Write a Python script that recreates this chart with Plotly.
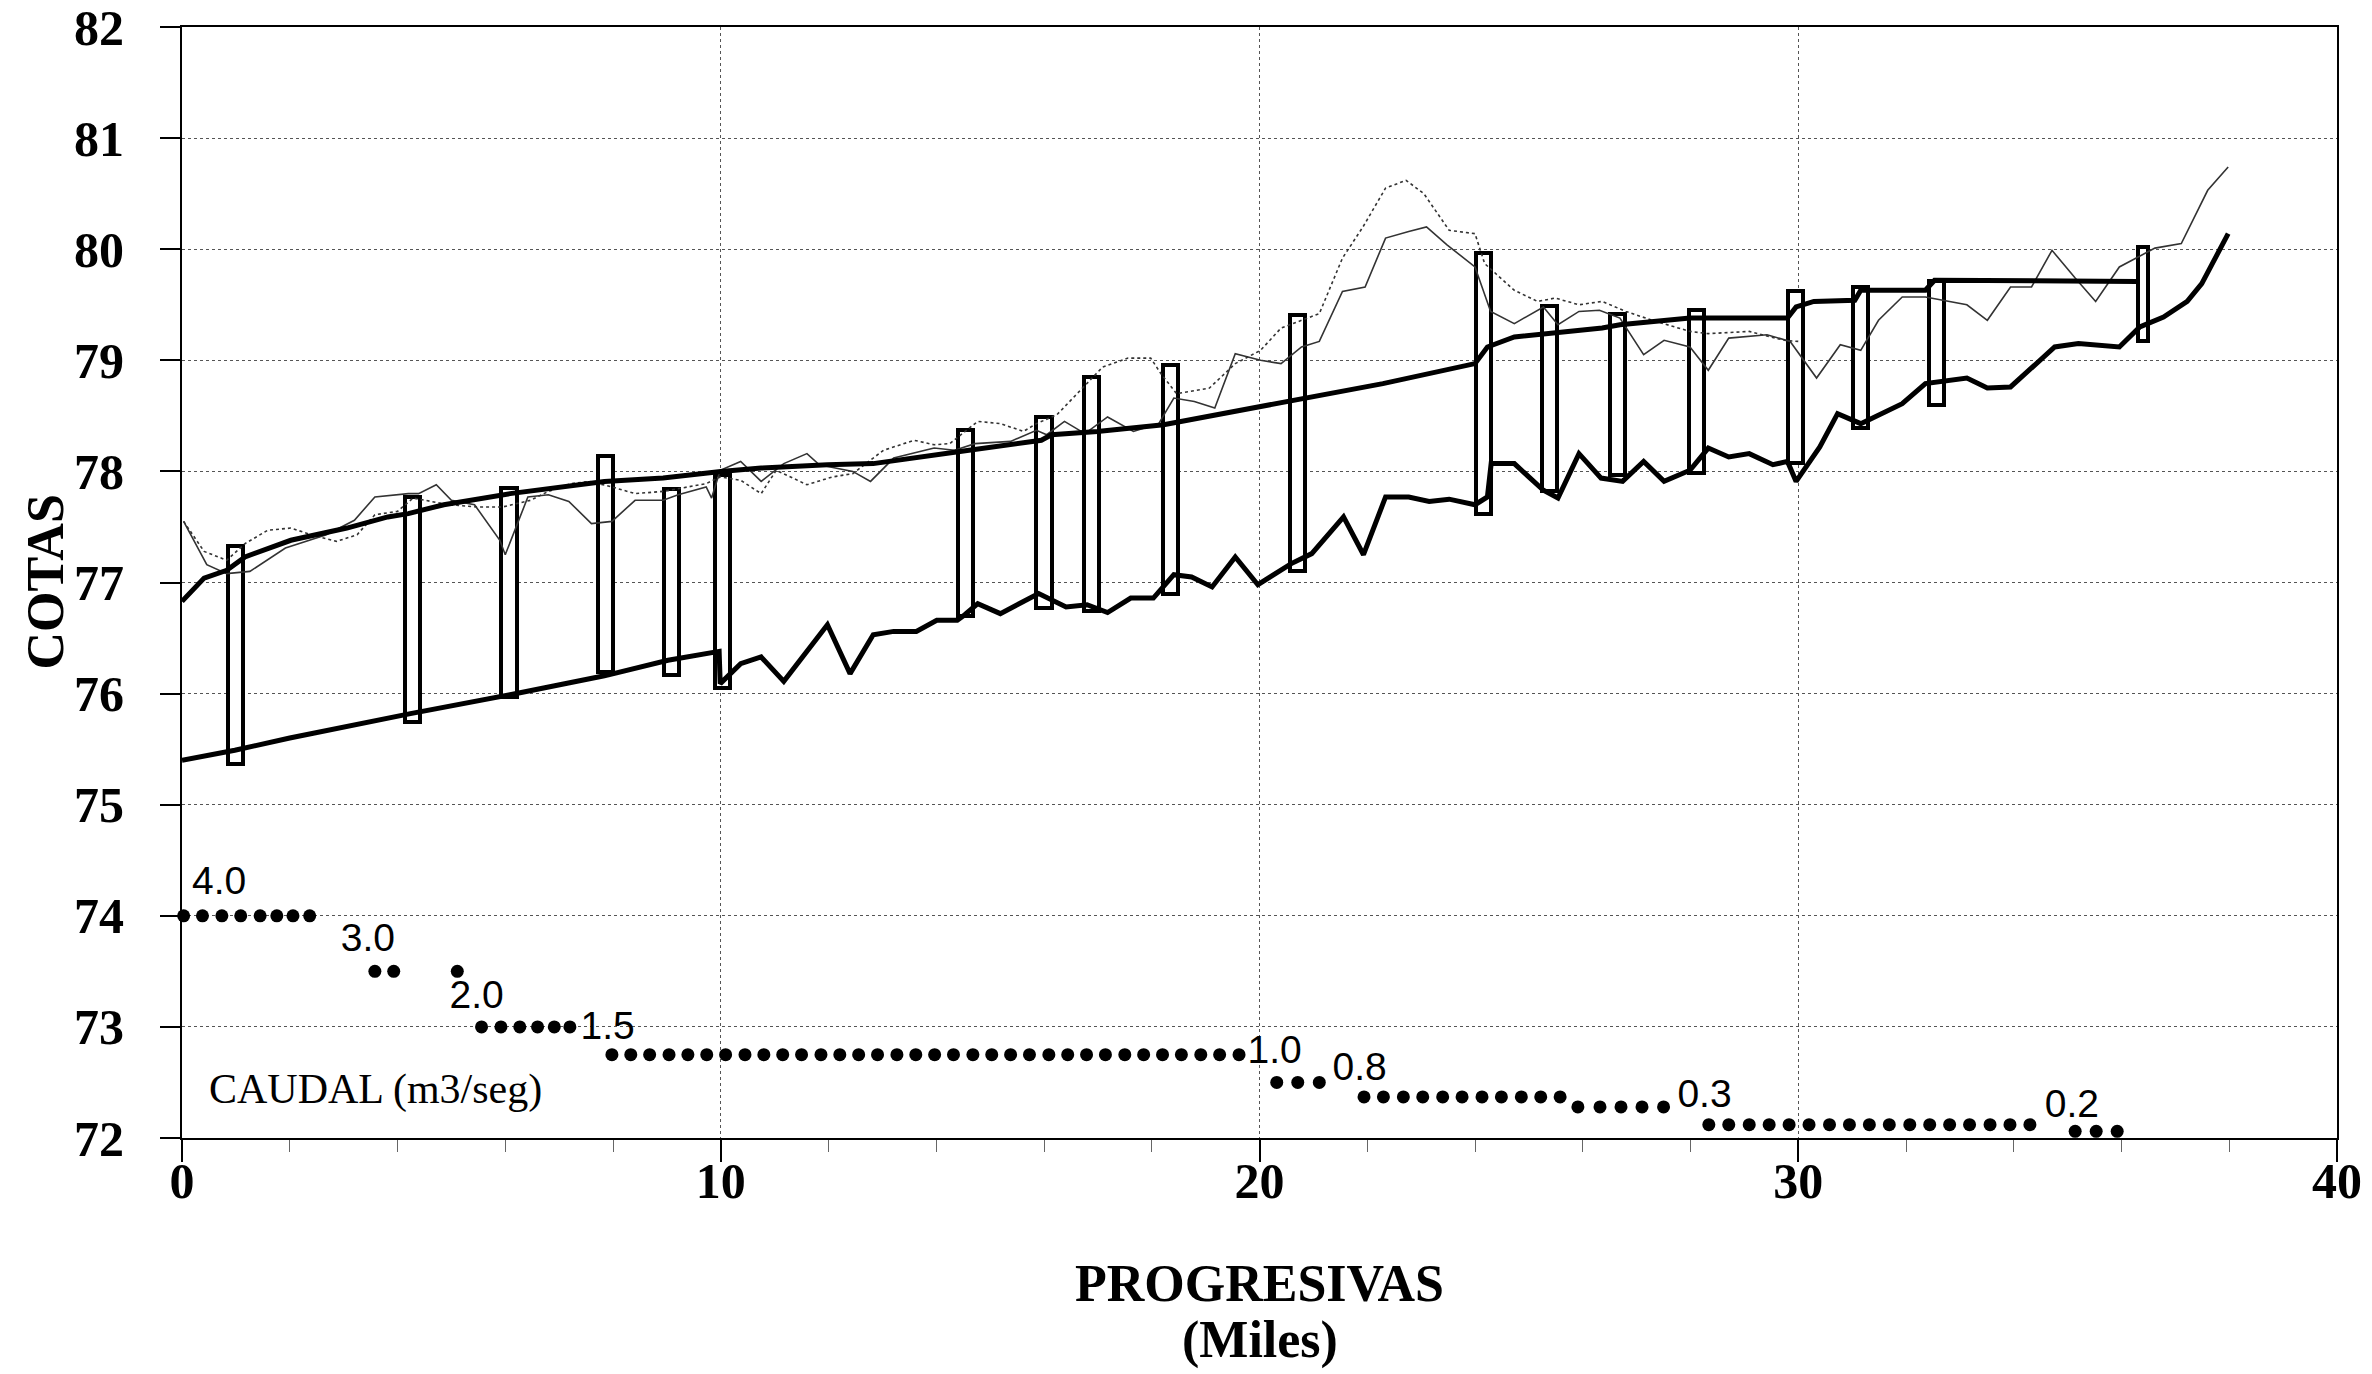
import plotly.graph_objects as go

# ---------------- data ----------------
# lower thick line (fondo / bed)
bed_x = [0.0, 0.98, 2.0, 3.0, 4.24, 6.09, 7.84, 9.02, 9.97, 9.99,
         10.37, 10.75, 11.17, 11.98, 12.40, 12.83, 13.21, 13.63, 14.01, 14.39,
         14.53, 14.77, 15.19, 15.90, 16.41, 16.80, 17.18, 17.61, 18.03, 18.41,
         18.74, 19.12, 19.55, 19.97, 20.59, 20.97, 21.56, 21.93, 22.34, 22.77,
         23.15, 23.52, 24.00, 24.23, 24.30, 24.73, 25.27, 25.54, 25.93, 26.34,
         26.74, 27.13, 27.51, 27.99, 28.33, 28.71, 29.09, 29.53, 29.80, 29.96,
         30.40, 30.73, 31.16, 31.93, 32.36, 33.13, 33.51, 33.94, 34.76, 35.20,
         35.96, 36.34, 36.78, 37.22, 37.49, 37.98]
bed_y = [75.40, 75.49, 75.60, 75.70, 75.82, 75.99, 76.16, 76.30, 76.38, 76.09,
         76.27, 76.33, 76.11, 76.62, 76.18, 76.53, 76.56, 76.56, 76.66, 76.66,
         76.71, 76.81, 76.72, 76.90, 76.78, 76.80, 76.73, 76.86, 76.86, 77.07,
         77.05, 76.96, 77.23, 76.98, 77.17, 77.26, 77.59, 77.25, 77.77, 77.77,
         77.73, 77.75, 77.70, 77.77, 78.07, 78.07, 77.83, 77.76, 78.16, 77.94,
         77.91, 78.09, 77.91, 78.01, 78.21, 78.13, 78.16, 78.06, 78.09, 77.91,
         78.22, 78.52, 78.43, 78.61, 78.79, 78.84, 78.75, 78.76, 79.12, 79.15,
         79.12, 79.30, 79.39, 79.53, 79.69, 80.14]

# upper thick line (water surface)
ws_x = [0.0, 0.41, 0.83, 1.17, 2.02, 3.06, 3.82, 4.2, 4.86, 6.09,
        7.84, 8.93, 10.0, 10.75, 11.98, 12.83, 14.44, 15.95, 16.14, 16.99,
        18.22, 20.5, 22.29, 24.0, 24.23, 24.73, 25.33, 26.36, 26.69, 27.99,
        29.80, 29.96, 30.29, 31.05, 31.16, 32.36, 32.53, 36.29]
ws_y = [76.83, 77.04, 77.11, 77.23, 77.38, 77.49, 77.59, 77.62, 77.70, 77.80,
        77.91, 77.94, 78.0, 78.03, 78.06, 78.07, 78.18, 78.28, 78.33, 78.36,
        78.42, 78.63, 78.79, 78.97, 79.12, 79.21, 79.24, 79.29, 79.32, 79.38,
        79.38, 79.48, 79.53, 79.54, 79.63, 79.63, 79.72, 79.71]

# thin solid line (bank 1)
bank1_x = [0.03, 0.46, 0.83, 1.26, 1.92, 2.68, 3.2, 3.58, 4.2, 4.39,
           4.72, 5.0, 5.43, 5.9, 6.0, 6.42, 6.8, 7.18, 7.6, 7.98,
           8.41, 8.93, 9.21, 9.73, 9.83, 9.99, 10.37, 10.75, 11.17, 11.60,
           11.83, 12.45, 12.78, 13.21, 13.96, 14.34, 14.72, 15.38, 15.86, 16.05,
           16.38, 16.76, 17.18, 17.66, 18.13, 18.41, 18.79, 19.17, 19.55, 20.02,
           20.40, 20.78, 21.11, 21.54, 21.96, 22.34, 22.77, 23.10, 23.48, 24.0,
           24.29, 24.73, 25.27, 25.54, 25.93, 26.31, 26.69, 27.13, 27.51, 27.99,
           28.33, 28.71, 29.42, 29.85, 30.34, 30.78, 31.16, 31.49, 31.93, 32.36,
           33.13, 33.51, 33.94, 34.33, 34.71, 35.14, 35.52, 35.96, 36.62, 37.11,
           37.60, 37.98]
bank1_y = [77.55, 77.16, 77.08, 77.10, 77.31, 77.43, 77.56, 77.77, 77.80, 77.80,
           77.88, 77.74, 77.70, 77.38, 77.25, 77.77, 77.79, 77.73, 77.53, 77.55,
           77.74, 77.74, 77.79, 77.86, 77.76, 78.01, 78.09, 77.91, 78.07, 78.16,
           78.06, 78.00, 77.91, 78.12, 78.21, 78.19, 78.25, 78.27, 78.37, 78.33,
           78.45, 78.34, 78.49, 78.36, 78.43, 78.66, 78.63, 78.57, 79.06, 79.00,
           78.97, 79.12, 79.17, 79.62, 79.66, 80.10, 80.16, 80.20, 80.04, 79.84,
           79.44, 79.33, 79.48, 79.32, 79.44, 79.45, 79.38, 79.05, 79.18, 79.12,
           78.91, 79.20, 79.23, 79.17, 78.84, 79.14, 79.09, 79.36, 79.57, 79.57,
           79.50, 79.36, 79.66, 79.66, 79.99, 79.74, 79.53, 79.84, 80.01, 80.05,
           80.53, 80.74]

# thin dotted line (bank 2)
bank2_x = [0.03, 0.41, 0.83, 1.17, 1.59, 2.02, 2.4, 2.87, 3.25, 3.58,
           4.0, 4.29, 4.95, 5.47, 5.95, 6.47, 6.8, 7.22, 7.56, 7.98,
           8.41, 8.93, 9.73, 9.99, 10.37, 10.75, 11.03, 11.60, 12.07, 12.45,
           13.02, 13.59, 13.96, 14.25, 14.77, 15.19, 15.62, 15.86, 16.24, 16.66,
           17.09, 17.56, 17.98, 18.17, 18.46, 19.07, 19.55, 20.02, 20.40, 21.11,
           21.54, 21.92, 22.34, 22.72, 23.05, 23.52, 24.0, 24.18, 24.73, 25.16,
           25.49, 25.93, 26.36, 26.80, 27.29, 27.99, 28.33, 29.09, 29.74, 30.0]
bank2_y = [77.55, 77.28, 77.20, 77.35, 77.47, 77.49, 77.43, 77.37, 77.43, 77.61,
           77.64, 77.76, 77.70, 77.68, 77.68, 77.74, 77.82, 77.89, 77.91, 77.86,
           77.80, 77.82, 77.89, 77.95, 77.92, 77.80, 78.01, 77.88, 77.95, 77.98,
           78.19, 78.28, 78.24, 78.25, 78.45, 78.43, 78.36, 78.43, 78.51, 78.72,
           78.94, 79.02, 79.02, 78.88, 78.70, 78.75, 78.97, 79.09, 79.29, 79.42,
           79.92, 80.20, 80.55, 80.62, 80.50, 80.17, 80.14, 79.87, 79.63, 79.53,
           79.56, 79.50, 79.53, 79.44, 79.36, 79.26, 79.24, 79.26, 79.18, 79.17]

# vertical boxes (structures)
box_x = [0.99, 4.27, 6.07, 7.86, 9.09, 10.04, 14.54, 16.00, 16.88, 18.34,
         20.71, 24.15, 25.39, 26.64, 28.11, 29.95, 31.16, 32.56, 36.40]
box_top = [77.33, 77.77, 77.85, 78.14, 77.84, 77.97, 78.37, 78.49, 78.85, 78.96,
           79.41, 79.97, 79.49, 79.42, 79.45, 79.62, 79.66, 79.71, 80.02]
box_bottom = [75.37, 75.74, 75.97, 76.19, 76.17, 76.05, 76.70, 76.77, 76.74, 76.90,
              77.10, 77.62, 77.82, 77.97, 77.99, 78.08, 78.39, 78.60, 79.17]
box_w = [0.28] * 18 + [0.17]

# caudal (flow) dots
q_groups_x = [
    [0.03, 0.38, 0.74, 1.09, 1.45, 1.76, 2.06, 2.37],
    [3.58, 3.93, 5.11],
    [5.56, 5.92, 6.27, 6.60, 6.91, 7.20],
    [7.98, 8.33, 8.68, 9.04, 9.39, 9.74, 10.09, 10.45, 10.80, 11.15,
     11.50, 11.86, 12.21, 12.56, 12.91, 13.27, 13.62, 13.97, 14.32, 14.68,
     15.03, 15.38, 15.73, 16.09, 16.44, 16.79, 17.14, 17.50, 17.85, 18.20,
     18.55, 18.91, 19.26, 19.62],
    [20.32, 20.71, 21.11],
    [21.94, 22.30, 22.67, 23.03, 23.40, 23.76, 24.13, 24.49, 24.86, 25.22, 25.58],
    [25.91, 26.32, 26.71, 27.10, 27.50],
    [28.34, 28.71, 29.09, 29.46, 29.83, 30.20, 30.58, 30.95, 31.32, 31.69,
     32.07, 32.44, 32.81, 33.18, 33.56, 33.93, 34.30],
    [35.14, 35.53, 35.92],
]
q_groups_y = [74.0, 73.5, 73.0, 72.75, 72.5, 72.37, 72.28, 72.12, 72.06]

q_labels = ["4.0", "3.0", "2.0", "1.5", "1.0", "0.8", "0.3", "0.2"]
q_label_x = [0.69, 3.45, 5.47, 7.90, 20.28, 21.86, 28.26, 35.08]
q_label_y = [74.28, 73.77, 73.26, 72.98, 72.76, 72.61, 72.37, 72.28]

x_ticks = [0, 10, 20, 30, 40]
y_ticks = [72, 73, 74, 75, 76, 77, 78, 79, 80, 81, 82]

# ---------------- figure ----------------
fig = go.Figure()

fig.add_trace(go.Bar(
    x=box_x, y=[t - b for t, b in zip(box_top, box_bottom)], base=box_bottom,
    width=box_w, marker=dict(color="white", line=dict(color="black", width=4)),
    hoverinfo="skip"))

fig.add_trace(go.Scatter(x=bank2_x, y=bank2_y, mode="lines",
                         line=dict(color="#333333", width=1.6, dash="dot")))
fig.add_trace(go.Scatter(x=bank1_x, y=bank1_y, mode="lines",
                         line=dict(color="#333333", width=1.6)))
fig.add_trace(go.Scatter(x=ws_x, y=ws_y, mode="lines",
                         line=dict(color="black", width=5)))
fig.add_trace(go.Scatter(x=bed_x, y=bed_y, mode="lines",
                         line=dict(color="black", width=5)))

for gx, gy in zip(q_groups_x, q_groups_y):
    fig.add_trace(go.Scatter(x=gx, y=[gy] * len(gx), mode="markers",
                             marker=dict(color="black", size=13),
                             cliponaxis=False))

fig.add_trace(go.Scatter(x=q_label_x, y=q_label_y, mode="text", text=q_labels,
                         textposition="middle center",
                         textfont=dict(family="Liberation Sans", size=39, color="black"),
                         cliponaxis=False))

serif_bold = dict(family="Liberation Serif", size=50, color="black", weight="bold")

fig.update_layout(
    width=2372, height=1374,
    margin=dict(l=182, r=35, t=27, b=236, autoexpand=False),
    paper_bgcolor="white", plot_bgcolor="white",
    showlegend=False, bargap=0,
    annotations=[
        dict(text="COTAS", xref="paper", yref="paper", x=(45 - 182) / 2155, y=0.5,
             textangle=-90, showarrow=False, xanchor="center", yanchor="middle",
             font=dict(family="Liberation Serif", size=52, color="black", weight="bold")),
        dict(text="PROGRESIVAS", xref="paper", yref="paper", x=0.5, y=(1138 - 1283) / 1111,
             showarrow=False, xanchor="center", yanchor="middle",
             font=dict(family="Liberation Serif", size=52, color="black", weight="bold")),
        dict(text="(Miles)", xref="paper", yref="paper", x=0.5, y=(1138 - 1340) / 1111,
             showarrow=False, xanchor="center", yanchor="middle",
             font=dict(family="Liberation Serif", size=52, color="black", weight="bold")),
        dict(text="CAUDAL (m3/seg)", xref="x", yref="y", x=0.47, y=72.44,
             showarrow=False, xanchor="left", yanchor="middle",
             font=dict(family="Liberation Serif", size=42, color="black")),
    ],
)

fig.update_xaxes(
    range=[0, 40], tickvals=x_ticks, ticktext=[str(v) for v in x_ticks],
    showgrid=True, gridcolor="#555555", griddash="dot", gridwidth=1.2,
    showline=True, linecolor="black", linewidth=2, mirror=True,
    ticks="outside", ticklen=22, tickwidth=2, tickcolor="black",
    tickfont=serif_bold, zeroline=False, ticklabelstandoff=-24,
    ticklabeloverflow="allow", automargin=False,
    minor=dict(dtick=2, tick0=0, ticks="outside", ticklen=12, tickwidth=1,
               tickcolor="#666666", showgrid=False),
)
fig.update_yaxes(
    range=[72, 82], tickvals=y_ticks, ticktext=[str(v) for v in y_ticks],
    showgrid=True, gridcolor="#555555", griddash="dot", gridwidth=1.2,
    showline=True, linecolor="black", linewidth=2, mirror=True,
    ticks="outside", ticklen=20, tickwidth=2, tickcolor="black",
    tickfont=serif_bold, zeroline=False, ticklabelstandoff=26,
    ticklabeloverflow="allow", automargin=False,
)

fig.write_html("out.html")
